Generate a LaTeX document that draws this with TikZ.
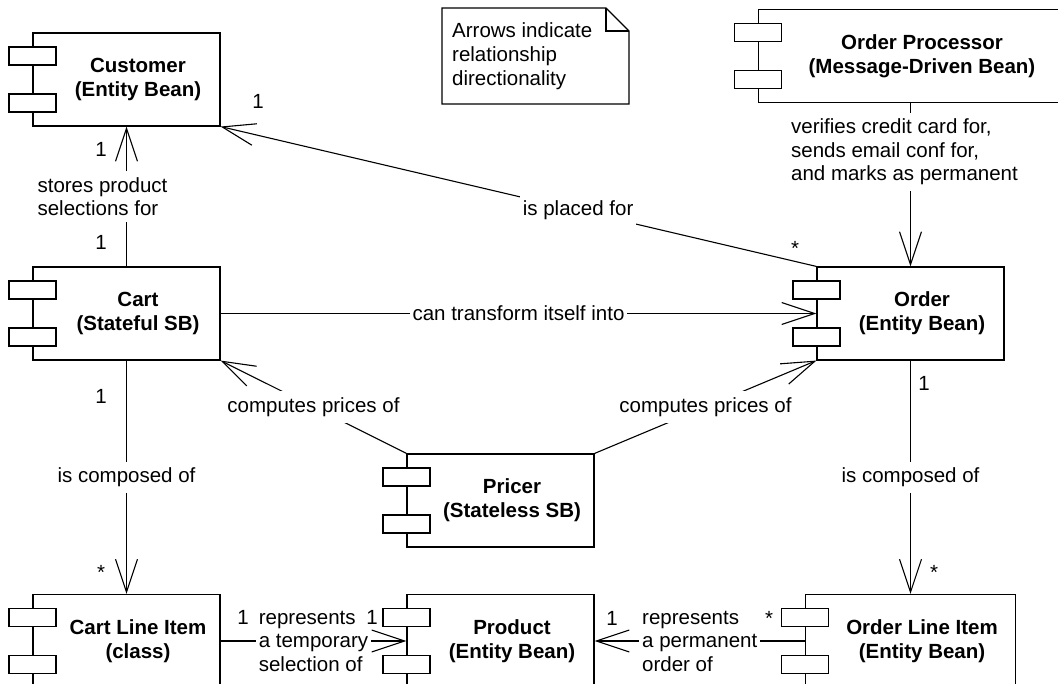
\documentclass[tikz,border=0pt]{standalone}
\usepackage{fontspec}
\setmainfont{Liberation Sans}
\usetikzlibrary{arrows.meta, positioning}
\tikzset{
  comp/.style={draw, fill=white, line width=1.1pt, minimum height=93pt,
               inner sep=0pt},
  tab/.style={draw, fill=white, line width=1.1pt, minimum width=47pt,
              minimum height=18pt, inner sep=0pt},
  title/.style={font=\bfseries\fontsize{20.5}{24}\selectfont, align=center},
  lbl/.style={fill=white, font=\fontsize{20.5}{23.5}\selectfont, align=left,
              inner xsep=3pt, inner ysep=6pt},
  mult/.style={font=\fontsize{20.5}{23.5}\selectfont, inner sep=1pt},
  notetxt/.style={font=\fontsize{20.5}{24}\selectfont, align=left, inner sep=0pt},
  assoc/.style={line width=1.1pt, -{Straight Barb[length=33pt, width=22pt]}},
}
\begin{document}
\begin{tikzpicture}[x=1pt, y=-1pt]
    \clip (0,0) rectangle (1058,684);
    %% Components
    \foreach \n/\x/\y/\w/\t in {cust/126.5/79.5/187/{Customer\\(Entity Bean)},
        proc/910.5/56/304/{Order Processor\\(Message-Driven Bean)},
        cart/126.5/313.5/187/{Cart\\(Stateful SB)},
        order/910.5/313.5/187/{Order\\(Entity Bean)},
        pricer/500.5/500.5/187/{Pricer\\(Stateless SB)},
        cli/126.5/641/187/{Cart Line Item\\(class)},
        prod/500.5/641/187/{Product\\(Entity Bean)},
        oli/910.5/641/210/{Order Line Item\\(Entity Bean)}}{
      \node[comp, minimum width=\w pt] (\n) at (\x,\y) {};
      \node[tab] (\n T1) at ([yshift=23.5pt]\n.west) {};
      \node[tab] (\n T2) at ([yshift=-23.5pt]\n.west) {};
      \node[title] (\n L) at ([xshift=11.5pt]\n.center) {\t};
    }
    %% Note
    \node[notetxt, anchor=west] (note) at (452,56)
      {Arrows indicate\\relationship\\directionality};
    \draw[line width=1.1pt] (442,8) -- (606,8) -- (629,31) -- (629,104)
      -- (442,104) -- cycle;
    \draw[line width=1.1pt] (606,8) -- (606,31) -- (629,31);
    %% Associations
    \draw[assoc] (cart.north) -- node[lbl, xshift=-24pt] (lA)
      {stores product\\selections for} (cust.south);
    \draw[assoc] (order.north west) -- node[lbl, pos=0.4] (lB)
      {is placed for} (cust.south east);
    \draw[assoc] (cart.east) -- node[lbl] (lC)
      {can transform itself into} (order.west);
    \draw[assoc] (pricer.north west) -- node[lbl] (lD)
      {computes prices of} (cart.south east);
    \draw[assoc] (pricer.north east) -- node[lbl] (lE)
      {computes prices of} (order.south west);
    \draw[assoc] (order.south) -- node[lbl] (lF) {is composed of} (oli.north);
    \draw[assoc] (cart.south) -- node[lbl] (lG) {is composed of} (cli.north);
    \draw[assoc] (cli.east) -- node[lbl] (lH)
      {represents\\a temporary\\selection of} (prod.west);
    \draw[assoc] (oli.west) -- node[lbl] (lI)
      {represents\\a permanent\\order of} (prod.east);
    \draw[assoc] (proc.south) -- node[lbl, pos=0.3, xshift=-6pt] (lJ)
      {verifies credit card for,\\sends email conf for,\\and marks as permanent}
      (order.north);
    %% Multiplicities
    \foreach \m/\x/\y/\t in {mA1/101/149/1, mA2/101/242/1, mB1/258/101/1,
        mB2/795/248/*, mG1/101/396/1, mG2/101/572/*, mF1/924/383/1,
        mF2/934/572/*, mH1/243/617/1, mH2/372/617/1, mI1/612/618/1,
        mI2/769/618/*}{
      \node[mult] (\m) at (\x,\y) {\t};
    }
\end{tikzpicture}
\end{document}
